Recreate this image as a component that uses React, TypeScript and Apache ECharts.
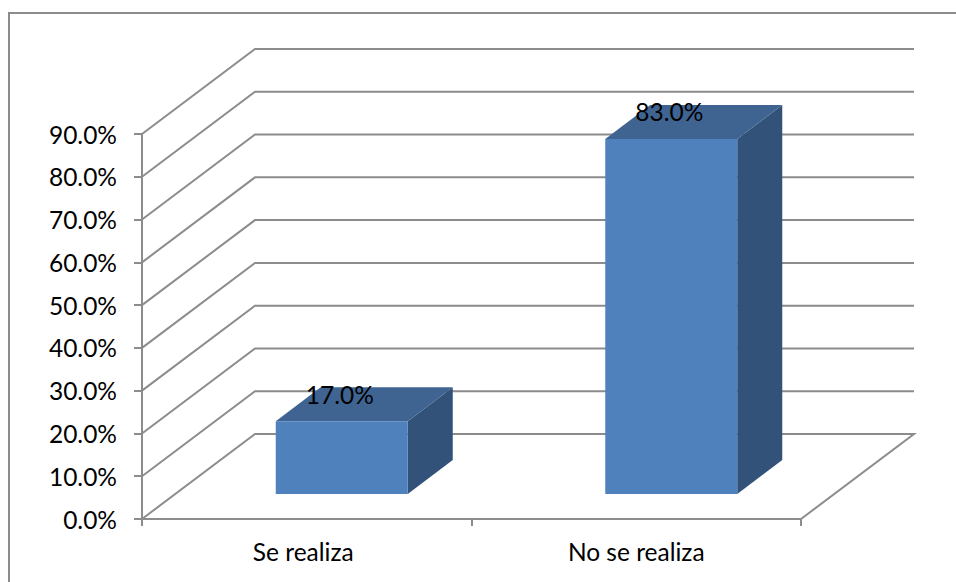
import React, { useEffect, useRef } from "react";
import * as echarts from "echarts";

const categories = ["Se realiza", "No se realiza"];
const barValues = [17, 83];
const barLabels = ["17.0%", "83.0%"];
const gridValues = [0, 10, 20, 30, 40, 50, 60, 70, 80, 90];

const FONT = "Lato";
const FONT_SIZE = 24.5;
const LINE = "#8c8c8c";
const LINE_W = 2;
const WALL_DX = 113;
const WALL_DY = -85;
const BAR_W = 132;
const BAR_SHIFT_X = 35;
const BAR_SHIFT_Y = -25;
const BAR_DX = 45;
const BAR_DY = -34;

export default function App() {
  const ref = useRef<HTMLDivElement>(null);
  useEffect(() => {
    const chart = echarts.init(ref.current!, undefined, { renderer: "svg" });
    chart.setOption({
      animation: false,
      backgroundColor: "#ffffff",
      textStyle: { fontFamily: FONT },
      graphic: [
        {
          type: "polyline",
          silent: true,
          z: 0,
          shape: { points: [[9, 582], [9, 13], [956, 13]] },
          style: { fill: "none", stroke: LINE, lineWidth: LINE_W },
        },
      ],
      grid: { left: 142, top: 134, width: 659, height: 385, containLabel: false },
      xAxis: {
        type: "category",
        data: categories,
        axisLine: { lineStyle: { color: LINE, width: LINE_W } },
        axisTick: { show: true, length: 7, lineStyle: { color: LINE, width: LINE_W } },
        axisLabel: {
          color: "#000",
          fontFamily: FONT,
          fontSize: FONT_SIZE,
          margin: 20,
          formatter: (v: string) => (v === categories[0] ? `{a|${v}}` : v),
          rich: {
            a: {
              color: "#000",
              fontFamily: FONT,
              fontSize: FONT_SIZE,
              padding: [0, 7, 0, 0],
            },
          },
        },
        splitLine: { show: false },
      },
      yAxis: {
        type: "value",
        min: 0,
        max: 90,
        interval: 10,
        axisLine: { show: true, lineStyle: { color: LINE, width: LINE_W } },
        axisTick: { show: true, length: 8, lineStyle: { color: LINE, width: LINE_W } },
        axisLabel: {
          color: "#000",
          fontFamily: FONT,
          fontSize: FONT_SIZE,
          margin: 25,
          formatter: (v: number) => v.toFixed(1) + "%",
        },
        splitLine: { show: false },
      },
      series: [
        {
          type: "custom",
          name: "walls",
          z: 1,
          silent: true,
          clip: false,
          data: gridValues.map((v) => [0, v]),
          encode: { x: 0, y: 1 },
          renderItem: (_p: any, api: any) => {
            const v = api.value(1);
            const band = api.size([1, 0])[0];
            const p = api.coord([0, v]);
            const x0 = p[0] - band / 2;
            const y = p[1];
            const x1 = x0 + band * categories.length;
            const pts: number[][] = [
              [x0, y],
              [x0 + WALL_DX, y + WALL_DY],
              [x1 + WALL_DX, y + WALL_DY],
            ];
            if (v === 0) pts.push([x1, y]);
            return {
              type: "polyline",
              shape: { points: pts },
              style: { fill: "none", stroke: LINE, lineWidth: LINE_W },
            };
          },
        },
        {
          type: "custom",
          name: "bars",
          z: 2,
          silent: true,
          clip: false,
          data: barValues.map((v, i) => [i, v]),
          encode: { x: 0, y: 1 },
          renderItem: (_p: any, api: any) => {
            const i = api.value(0);
            const top = api.coord([i, api.value(1)]);
            const base = api.coord([i, 0]);
            const l = top[0] + BAR_SHIFT_X - BAR_W / 2;
            const r = l + BAR_W;
            const t = top[1] + BAR_SHIFT_Y;
            const b = base[1] + BAR_SHIFT_Y;
            return {
              type: "group",
              children: [
                {
                  type: "polygon",
                  shape: { points: [[r, t], [r + BAR_DX, t + BAR_DY], [r + BAR_DX, b + BAR_DY], [r, b]] },
                  style: { fill: "#32527a" },
                },
                {
                  type: "polygon",
                  shape: { points: [[l, t], [l + BAR_DX, t + BAR_DY], [r + BAR_DX, t + BAR_DY], [r, t]] },
                  style: { fill: "#3f6492" },
                },
                {
                  type: "rect",
                  shape: { x: l, y: t, width: BAR_W, height: b - t },
                  style: { fill: "#4f81bd" },
                },
              ],
            };
          },
        },
        {
          type: "custom",
          name: "labels",
          z: 3,
          silent: true,
          clip: false,
          data: barValues.map((v, i) => [i, v]),
          encode: { x: 0, y: 1 },
          renderItem: (_p: any, api: any) => {
            const i = api.value(0);
            const top = api.coord([i, api.value(1)]);
            return {
              type: "text",
              style: {
                text: barLabels[i],
                x: top[0] + 33,
                y: top[1] + BAR_SHIFT_Y - 27,
                align: "center",
                verticalAlign: "middle",
                fill: "#000",
                font: `${FONT_SIZE}px ${FONT}`,
              },
            };
          },
        },
      ],
    });
    return () => chart.dispose();
  }, []);
  return (
    <div
      ref={ref}
      style={{ position: "absolute", left: 0, top: 0, width: 956, height: 582 }}
    />
  );
}
